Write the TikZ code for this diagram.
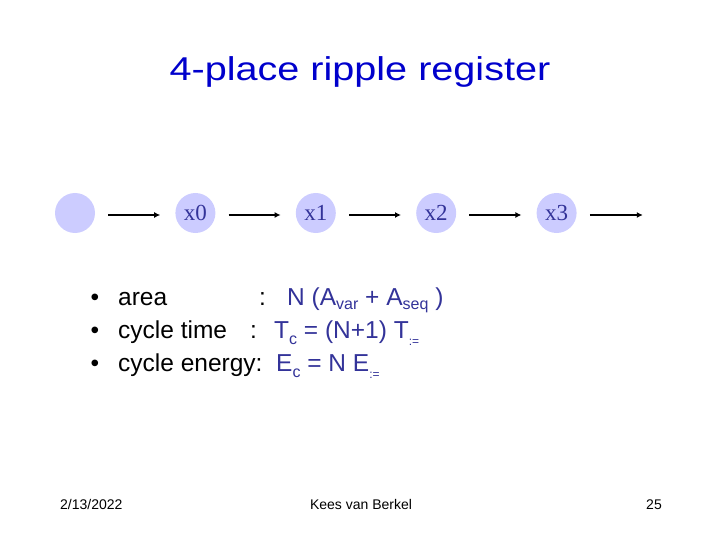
\documentclass[tikz,border=0pt]{standalone}
\usepackage{graphicx}
\usepackage{fontspec}
\setmainfont{Liberation Sans}
\newfontfamily\regfont{Liberation Serif}
\usetikzlibrary{arrows.meta, positioning}
\definecolor{regfill}{RGB}{204,204,255}
\definecolor{regtext}{RGB}{51,51,153}
\definecolor{titleblue}{RGB}{0,0,204}
\newcommand{\lowsub}[2][-4pt]{\raisebox{#1}{\fontsize{16}{16}\selectfont #2}}
\newcommand{\fsz}[1]{\fontsize{#1}{#1}\selectfont}

\begin{document}
\begin{tikzpicture}[x=1pt, y=-1pt, >={Latex[length=6pt,width=6pt]}, node distance=80pt]
    \useasboundingbox (0,0) rectangle (720,540);
    \tikzset{reg/.style={circle, fill=regfill, minimum size=40pt, inner sep=0pt, text=regtext, font=\regfont\fsz{23}},
             line/.style={anchor=base west, inner sep=0pt, font=\fsz{24.5}},
             eqn/.style={anchor=base west, inner sep=0pt, text=regtext, font=\fsz{24.5}}}

    % Title
    \node[anchor=base, text=titleblue, font=\fsz{33}, inner sep=0pt] (title) at (360,81) {\scalebox{1.2}[1]{4-place ripple register}};

    % Register places
    \node[reg] (x) at (75,213) {};
    \node[reg, right=of x] (x0) {x0};
    \node[reg, right=of x0] (x1) {x1};
    \node[reg, right=of x1] (x2) {x2};
    \node[reg, right=of x2] (x3) {x3};
    \coordinate[right=of x3.east] (out);

    % Arrows
    \foreach \a/\b in {x/x0, x0/x1, x1/x2, x2/x3}
        \draw[->, line width=1.8pt, shorten <=13pt, shorten >=15pt] ([yshift=-2pt]\a.east) -- ([yshift=-2pt]\b.west);
    \draw[->, line width=1.8pt, shorten <=13pt, shorten >=14pt] ([yshift=-2pt]x3.east) -- ([yshift=-2pt]out);

    % Costs
    \node[line] (b1) at (90.5,305) {•};
    \node[line] (area) at (118,305) {area};
    \node[line] (c1) at (259,305) {:};
    \node[eqn] (e1) at (287,305) {N (A\lowsub{var} + A\lowsub{seq} )};

    \node[line] (b2) at (90.5,338) {•};
    \node[line] (time) at (118,338) {cycle time};
    \node[line] (c2) at (250,338) {:};
    \node[eqn] (e2) at (274,338) {T\lowsub[-6pt]{c} = (N+1) T\lowsub[-7pt]{\fsz{12}:=}};

    \node[line] (b3) at (90.5,371) {•};
    \node[line] (energy) at (118,371) {cycle energy:};
    \node[eqn] (e3) at (276,371) {E\lowsub[-6pt]{c} = N E\lowsub[-7pt]{\fsz{12}:=}};

    % Footer
    \node[anchor=base west, font=\fsz{14}, inner sep=0pt] (date) at (60,509) {2/13/2022};
    \node[anchor=base, font=\fsz{14}, inner sep=0pt] (author) at (361,509) {Kees van Berkel};
    \node[anchor=base east, font=\fsz{14}, inner sep=0pt] (page) at (662,509) {25};
\end{tikzpicture}
\end{document}
